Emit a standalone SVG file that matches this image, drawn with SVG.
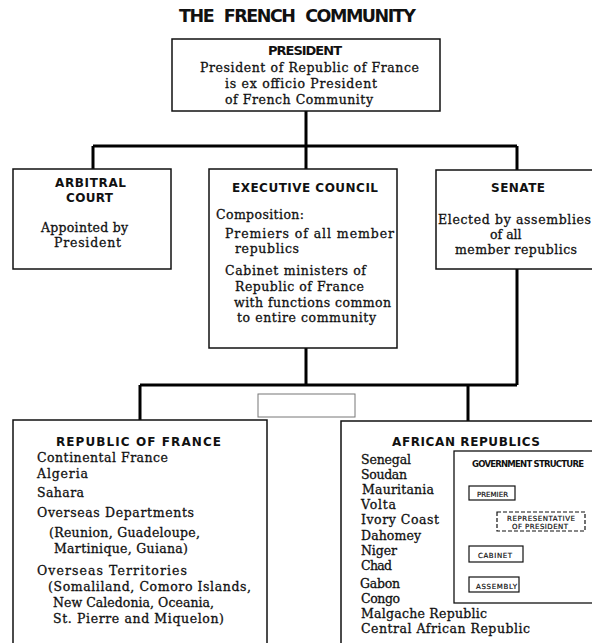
<svg xmlns="http://www.w3.org/2000/svg" width="592" height="643" viewBox="0 0 592 643">
<style>
  .box { fill: #fff; stroke: #111; stroke-width: 1.5; }
  .conn { stroke: #000; stroke-width: 3; fill: none; }
  .h { font-family: "DejaVu Sans", "Liberation Sans", sans-serif; font-weight: bold; fill: #111; }
  .t { font-family: "DejaVu Serif", "Liberation Serif", serif; font-size: 12.5px; fill: #111; stroke: #111; stroke-width: 0.3; }
  .s { font-family: "DejaVu Sans", "Liberation Sans", sans-serif; font-size: 7px; fill: #111; stroke: #111; stroke-width: 0.2; }
  .sb { stroke: #111; stroke-width: 1.2; fill: #fff; }
</style>
<rect width="592" height="643" fill="#fff"/>

<text class="h" x="179" y="22" font-size="17.5" textLength="237" lengthAdjust="spacing" word-spacing="6">THE FRENCH COMMUNITY</text>

<g id="connectors">
  <path class="conn" d="M306,111 V146 M93,146 H517 M93,146 V169 M306,146 V169 M517,146 V170"/>
  <path class="conn" d="M306,348 V385 M517,269 V385 M140,385 H517 M140,385 V420 M468,385 V421"/>
  <path stroke="#111" stroke-width="2" d="M488,500 V546"/>
  <path stroke="#111" stroke-width="1.6" stroke-dasharray="3,2" d="M507,500 V512"/>
  <path stroke="#111" stroke-width="3" d="M488,562 V577"/>
</g>

<g id="president">
  <rect class="box" x="172" y="39" width="268" height="72"/>
  <text class="h" x="268" y="55" font-size="13" textLength="74" lengthAdjust="spacing">PRESIDENT</text>
  <text class="t" x="200" y="72" textLength="219" lengthAdjust="spacing">President of Republic of France</text>
  <text class="t" x="225" y="88" textLength="152" lengthAdjust="spacing">is ex officio President</text>
  <text class="t" x="225" y="104" textLength="148" lengthAdjust="spacing">of French Community</text>
</g>

<g id="arbitral-court">
  <rect class="box" x="13" y="169" width="158" height="100"/>
  <text class="h" x="55" y="187" font-size="12" textLength="71" lengthAdjust="spacing">ARBITRAL</text>
  <text class="h" x="66" y="202" font-size="12" textLength="47" lengthAdjust="spacing">COURT</text>
  <text class="t" x="41" y="232" textLength="87" lengthAdjust="spacing">Appointed by</text>
  <text class="t" x="54" y="247" textLength="67" lengthAdjust="spacing">President</text>
</g>

<g id="executive-council">
  <rect class="box" x="209" y="169" width="188" height="179"/>
  <text class="h" x="232" y="192" font-size="12" textLength="146" lengthAdjust="spacing">EXECUTIVE COUNCIL</text>
  <text class="t" x="216" y="219" textLength="88" lengthAdjust="spacing">Composition:</text>
  <text class="t" x="225" y="238" textLength="169" lengthAdjust="spacing">Premiers of all member</text>
  <text class="t" x="235" y="253" textLength="64" lengthAdjust="spacing">republics</text>
  <text class="t" x="225" y="275" textLength="141" lengthAdjust="spacing">Cabinet ministers of</text>
  <text class="t" x="235" y="291" textLength="129" lengthAdjust="spacing">Republic of France</text>
  <text class="t" x="234" y="307" textLength="157" lengthAdjust="spacing">with functions common</text>
  <text class="t" x="237" y="322" textLength="139" lengthAdjust="spacing">to entire community</text>
</g>

<g id="senate">
  <rect class="box" x="436" y="170" width="170" height="99"/>
  <text class="h" x="491" y="192" font-size="12" textLength="54" lengthAdjust="spacing">SENATE</text>
  <text class="t" x="438" y="224" textLength="153" lengthAdjust="spacing">Elected by assemblies</text>
  <text class="t" x="490" y="239">of all</text>
  <text class="t" x="455" y="254" textLength="122" lengthAdjust="spacing">member republics</text>
</g>

<g id="blank-box">
  <rect x="258" y="394" width="97" height="23" fill="#fff" stroke="#777" stroke-width="1"/>
</g>

<g id="republic-of-france">
  <rect class="box" x="13" y="420" width="254" height="240"/>
  <text class="h" x="56" y="446" font-size="12" textLength="165" lengthAdjust="spacing">REPUBLIC OF FRANCE</text>
  <text class="t" x="37" y="462" textLength="131" lengthAdjust="spacing">Continental France</text>
  <text class="t" x="37" y="478" textLength="51" lengthAdjust="spacing">Algeria</text>
  <text class="t" x="37" y="497" textLength="47" lengthAdjust="spacing">Sahara</text>
  <text class="t" x="37" y="517" textLength="157" lengthAdjust="spacing">Overseas Departments</text>
  <text class="t" x="49" y="537" textLength="151" lengthAdjust="spacing">(Reunion, Guadeloupe,</text>
  <text class="t" x="54" y="553" textLength="134" lengthAdjust="spacing">Martinique, Guiana)</text>
  <text class="t" x="37" y="575" textLength="150" lengthAdjust="spacing">Overseas Territories</text>
  <text class="t" x="48" y="591" textLength="203" lengthAdjust="spacing">(Somaliland, Comoro Islands,</text>
  <text class="t" x="53" y="607" textLength="161" lengthAdjust="spacing">New Caledonia, Oceania,</text>
  <text class="t" x="53" y="623" textLength="171" lengthAdjust="spacing">St. Pierre and Miquelon)</text>
</g>

<g id="african-republics">
  <rect class="box" x="341" y="421" width="265" height="240"/>
  <text class="h" x="392" y="446" font-size="12" textLength="148" lengthAdjust="spacing">AFRICAN REPUBLICS</text>
  <text class="t" x="361" y="464" textLength="50" lengthAdjust="spacing">Senegal</text>
  <text class="t" x="361" y="479" textLength="46" lengthAdjust="spacing">Soudan</text>
  <text class="t" x="362" y="494" textLength="72" lengthAdjust="spacing">Mauritania</text>
  <text class="t" x="361" y="509" textLength="35" lengthAdjust="spacing">Volta</text>
  <text class="t" x="361" y="524" textLength="78" lengthAdjust="spacing">Ivory Coast</text>
  <text class="t" x="361" y="540" textLength="60" lengthAdjust="spacing">Dahomey</text>
  <text class="t" x="361" y="555" textLength="36" lengthAdjust="spacing">Niger</text>
  <text class="t" x="361" y="570" textLength="31" lengthAdjust="spacing">Chad</text>
  <text class="t" x="360" y="588" textLength="40" lengthAdjust="spacing">Gabon</text>
  <text class="t" x="361" y="603" textLength="39" lengthAdjust="spacing">Congo</text>
  <text class="t" x="361" y="618" textLength="126" lengthAdjust="spacing">Malgache Republic</text>
  <text class="t" x="361" y="633" textLength="169" lengthAdjust="spacing">Central African Republic</text>
</g>

<g id="government-structure">
  <rect x="454" y="451" width="150" height="152" fill="#fff" stroke="#111" stroke-width="1.3"/>
  <text class="h" x="472" y="467" font-size="8.5" textLength="112" lengthAdjust="spacing">GOVERNMENT STRUCTURE</text>
</g>

<g id="premier">
  <rect class="sb" x="469" y="486" width="46" height="14"/>
  <text class="s" x="477" y="497" textLength="31" lengthAdjust="spacing">PREMIER</text>
</g>

<g id="representative">
  <rect x="497" y="512" width="88" height="19" fill="#fff" stroke="#111" stroke-width="1.2" stroke-dasharray="4,2"/>
  <text class="s" x="507" y="521" textLength="68" lengthAdjust="spacing">REPRESENTATIVE</text>
  <text class="s" x="512" y="529" textLength="56" lengthAdjust="spacing">OF PRESIDENT</text>
</g>

<g id="cabinet">
  <rect class="sb" x="469" y="546" width="54" height="16"/>
  <text class="s" x="478" y="558" textLength="34" lengthAdjust="spacing">CABINET</text>
</g>

<g id="assembly">
  <rect class="sb" x="469" y="577" width="50" height="15"/>
  <text class="s" x="476" y="589" textLength="41" lengthAdjust="spacing">ASSEMBLY</text>
</g>
</svg>
